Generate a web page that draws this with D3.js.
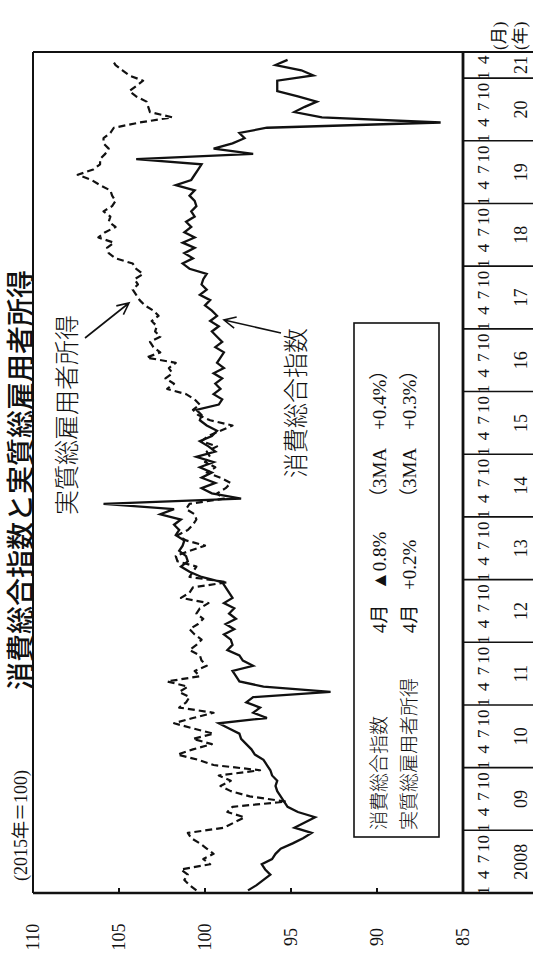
<!DOCTYPE html>
<html>
<head>
<meta charset="utf-8">
<script src="https://cdn.jsdelivr.net/npm/d3@7/dist/d3.min.js"></script>
<style>
  body { margin: 0; background: #fff; }
  svg { display: block; }
  text { fill: #111; }
</style>
</head>
<body>
<svg id="chart" width="533" height="955"></svg>
<script>
// Monthly series, Jan 2008 – Apr 2021 (2015 = 100)
const yearLabels = ["2008", "09", "10", "11", "12", "13", "14", "15", "16", "17", "18", "19", "20", "21"];
const monthTickLabels = ["1", "4", "7", "10"];
const monthTickIndex = [0, 3, 6, 9];
const valueTicks = [110, 105, 100, 95, 90, 85];

// 消費総合指数
const consumption = [
  97.5, 97.0, 96.6, 96.2, 96.5, 96.7, 96.1, 95.9, 95.6, 94.9, 94.3, 93.8,
  94.8, 94.2, 93.6, 94.6, 95.2, 95.4, 95.6, 95.8, 95.9, 95.8, 96.1, 96.2,
  96.4, 96.6, 97.1, 97.3, 97.6, 97.9, 98.0, 98.6, 99.2, 96.4, 97.2, 96.8,
  97.6, 97.2, 92.7, 96.6, 98.0, 98.2, 98.4, 97.2, 97.8, 98.0, 98.7, 98.4,
  98.5, 98.9, 98.3, 98.8, 98.2, 98.6, 98.3, 98.9, 98.4, 98.6, 98.8, 99.0,
  100.2, 100.9, 101.4, 101.0, 101.1, 101.5, 101.3, 101.2, 101.7, 101.5, 101.8, 101.4,
  102.6, 101.8, 105.9, 97.9, 99.6, 100.2, 99.4, 100.2, 99.6, 100.3, 99.5, 100.5,
  99.4, 99.8, 100.3, 99.6, 99.3, 99.9, 100.3, 100.2, 100.5, 99.2, 99.0, 99.5,
  99.1, 99.4, 99.0, 99.5, 98.9, 99.3, 99.1, 98.9, 99.4, 99.0, 99.3, 99.6,
  99.2, 99.7, 99.3, 99.6, 100.0, 99.7, 100.3, 99.9, 100.2, 100.1, 99.9, 100.9,
  101.3, 100.7, 101.2, 100.6, 101.3, 100.6, 101.2, 100.8, 101.1, 100.6, 100.8, 100.5,
  100.6, 100.9, 100.6, 101.7, 100.8, 100.6, 100.4, 100.2, 104.0, 97.2, 99.5, 98.4,
  97.7, 98.0, 96.4, 86.3, 93.2, 94.8, 94.2, 93.5, 94.6, 95.8, 95.8, 95.8,
  93.7, 94.4, 95.9, 95.2
];

// 実質総雇用者所得
const income = [
  100.5, 100.9, 101.2, 101.0, 101.4, 99.7, 100.1, 99.5, 99.9, 100.3, 100.8, 101.0,
  98.9, 98.3, 97.7, 98.7, 98.4, 95.3, 97.4, 98.5, 99.1, 98.5, 99.2, 96.8,
  99.5, 100.4, 101.6, 100.7, 99.6, 100.7, 99.5, 100.7, 101.8, 100.7, 99.5, 101.5,
  101.1, 100.9, 101.5, 101.0, 102.2, 100.3, 100.6, 99.9, 100.2, 100.3, 100.9, 100.5,
  100.2, 100.6, 100.9, 100.4, 100.1, 100.5, 100.3, 99.8, 101.4, 100.9, 100.7, 98.7,
  100.9, 100.7, 100.5, 101.6, 101.7, 100.9, 100.0, 101.1, 101.6, 101.0, 100.7, 100.5,
  100.6, 101.1, 100.9, 98.9, 99.3, 98.8, 98.5, 99.1, 99.9, 99.4, 100.0, 99.7,
  99.9, 99.3, 100.2, 99.8, 99.1, 98.4, 99.7, 100.4, 100.7, 100.3, 100.6, 101.1,
  102.2, 101.8, 102.3, 101.9, 102.1, 101.7, 103.4, 102.6, 103.0, 103.2, 102.6, 102.9,
  102.8, 103.1, 102.7, 103.0, 103.5, 103.8, 104.0, 104.2, 103.9, 104.1, 103.6, 104.0,
  104.2, 105.2, 105.6, 105.7, 105.3, 106.2, 105.8, 105.2, 105.6, 105.5, 105.9, 105.4,
  105.2, 105.4, 105.5, 106.1, 106.6, 107.4, 106.5, 106.1, 106.1, 105.8, 105.6, 105.9,
  105.9, 105.5, 105.3, 103.8, 101.9, 103.2, 103.3, 103.4, 104.0, 104.4, 104.0, 103.6,
  104.4, 104.8, 105.2, 105.4
];

// Legend rows
const legendNames = ["消費総合指数", "実質総雇用者所得"];
const legendMonth = ["4月", "4月"];
const legendChange = ["▲0.8%", "+0.2%"];
const legendMA = ["（3MA　+0.4%）", "（3MA　+0.3%）"];

const W = 955, H = 533;            // chart laid out landscape, then turned upright
const totalMonths = 161;           // axis runs to the end of May 2021
const serif = "'Liberation Serif', 'Noto Sans CJK JP', serif";
const sans = "'Noto Sans CJK JP', sans-serif";

const svg = d3.select("#chart");
const g = svg.append("g").attr("transform", `translate(0,${W}) rotate(-90)`);

const x = d3.scaleLinear().domain([0, totalMonths]).range([62, 903]);
const y = d3.scaleLinear().domain([85, 110]).range([463, 33]);

// title and unit
g.append("text")
  .attr("x", 475).attr("y", 31)
  .attr("text-anchor", "middle")
  .style("font-family", sans).style("font-size", "28px").style("font-weight", 500)
  .text("消費総合指数と実質総雇用者所得");

g.append("text")
  .attr("x", 74).attr("y", 27)
  .style("font-family", serif).style("font-size", "18px")
  .text("(2015年＝100)");

// frame
const frame = g.append("g").attr("stroke", "#111").attr("fill", "none");
frame.append("line").attr("x1", x(0)).attr("x2", x(0)).attr("y1", y(110)).attr("y2", H).attr("stroke-width", 2.6);
frame.append("line").attr("x1", x(totalMonths)).attr("x2", x(totalMonths)).attr("y1", y(110)).attr("y2", H).attr("stroke-width", 2);
frame.append("line").attr("x1", x(0)).attr("x2", x(totalMonths)).attr("y1", y(110)).attr("y2", y(110)).attr("stroke-width", 2);
frame.append("line").attr("x1", x(0)).attr("x2", x(totalMonths)).attr("y1", y(85)).attr("y2", y(85)).attr("stroke-width", 2.8);

// year separators through the label rows
frame.selectAll("line.sep")
  .data(d3.range(1, yearLabels.length))
  .join("line")
  .attr("class", "sep")
  .attr("x1", k => x(12 * k)).attr("x2", k => x(12 * k))
  .attr("y1", y(85)).attr("y2", H)
  .attr("stroke-width", 1.6);

// value axis ticks and labels
frame.selectAll("line.vt")
  .data(valueTicks.filter(v => v !== 110 && v !== 85))
  .join("line")
  .attr("class", "vt")
  .attr("x1", x(0)).attr("x2", x(0) + 5)
  .attr("y1", d => y(d)).attr("y2", d => y(d))
  .attr("stroke-width", 2);

g.selectAll("text.vl")
  .data(valueTicks)
  .join("text")
  .attr("class", "vl")
  .attr("x", 18).attr("y", d => y(d) + 6)
  .attr("text-anchor", "middle")
  .style("font-family", serif).style("font-size", "18px")
  .text(d => d);

// month labels
const monthPositions = [];
for (let i = 0; i < consumption.length; i++) {
  const k = monthTickIndex.indexOf(i % 12);
  if (k >= 0) monthPositions.push({ i, label: monthTickLabels[k] });
}
g.selectAll("text.ml")
  .data(monthPositions)
  .join("text")
  .attr("class", "ml")
  .attr("x", d => x(d.i + 0.5)).attr("y", 489)
  .attr("text-anchor", "middle")
  .style("font-family", serif).style("font-size", "17px")
  .text(d => d.label);

// year labels
g.selectAll("text.yl")
  .data(yearLabels)
  .join("text")
  .attr("class", "yl")
  .attr("x", (d, k) => (x(12 * k) + x(Math.min(12 * (k + 1), totalMonths))) / 2)
  .attr("y", 527)
  .attr("text-anchor", "middle")
  .style("font-family", serif).style("font-size", "18px")
  .text(d => d);

g.append("text").attr("x", 905).attr("y", 505)
  .style("font-family", serif).style("font-size", "17px").text("(月)");
g.append("text").attr("x", 905).attr("y", 526)
  .style("font-family", serif).style("font-size", "17px").text("(年)");

// series
const line = d3.line().x((d, i) => x(i + 0.5)).y(d => y(d));

g.append("path")
  .datum(income)
  .attr("d", line)
  .attr("fill", "none").attr("stroke", "#111")
  .attr("stroke-width", 2.2).attr("stroke-dasharray", "7,4")
  .attr("stroke-linejoin", "round");

g.append("path")
  .datum(consumption)
  .attr("d", line)
  .attr("fill", "none").attr("stroke", "#111")
  .attr("stroke-width", 2.3)
  .attr("stroke-linejoin", "miter");

// series annotations with arrows
function arrow(x1, y1, x2, y2) {
  const a = Math.atan2(y2 - y1, x2 - x1);
  const len = 13, spread = 0.45;
  const p = d3.path();
  p.moveTo(x1, y1); p.lineTo(x2, y2);
  p.moveTo(x2 - len * Math.cos(a - spread), y2 - len * Math.sin(a - spread));
  p.lineTo(x2, y2);
  p.lineTo(x2 - len * Math.cos(a + spread), y2 - len * Math.sin(a + spread));
  g.append("path").attr("d", p.toString())
    .attr("fill", "none").attr("stroke", "#111").attr("stroke-width", 1.6);
}

g.append("text").attr("x", 440).attr("y", 76)
  .style("font-family", sans).style("font-size", "25px").style("font-weight", 300)
  .text("実質総雇用者所得");
arrow(617, 85, 652, 129);

g.append("text").attr("x", 477).attr("y", 305)
  .style("font-family", sans).style("font-size", "25px").style("font-weight", 300)
  .text("消費総合指数");
arrow(622, 281, 635, 224);

// legend box
g.append("rect")
  .attr("x", 118).attr("y", 354).attr("width", 514).attr("height", 85)
  .attr("fill", "#fff").attr("stroke", "#111").attr("stroke-width", 1.6);

const rowY = [386, 416];
legendNames.forEach((name, r) => {
  const row = g.append("g").style("font-family", serif).style("font-size", "19px");
  row.append("text").attr("x", 125).attr("y", rowY[r]).style("font-weight", 300).text(name);
  row.append("text").attr("x", 322).attr("y", rowY[r]).text(legendMonth[r]);
  row.append("text").attr("x", 365).attr("y", rowY[r]).text(legendChange[r]);
  row.append("text").attr("x", 448).attr("y", rowY[r]).text(legendMA[r]);
});
</script>
</body>
</html>
